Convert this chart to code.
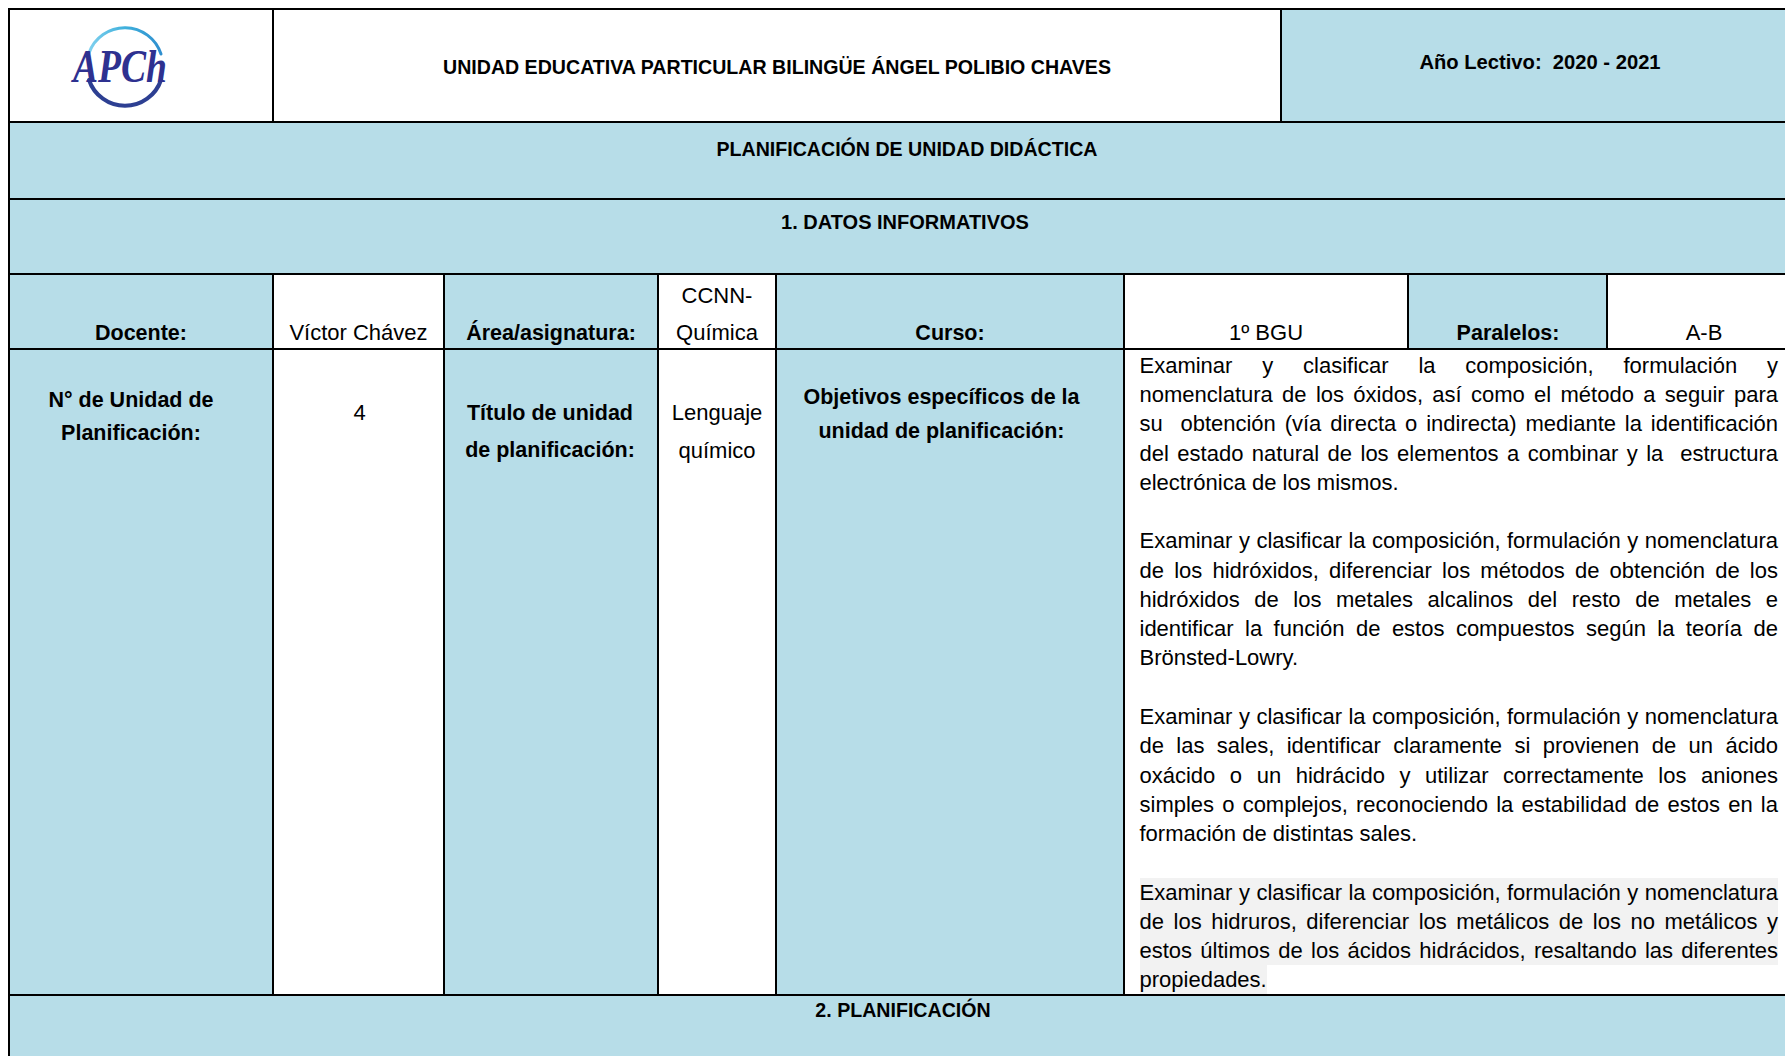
<!DOCTYPE html>
<html><head><meta charset="utf-8">
<script src="https://cdn.jsdelivr.net/npm/chart.js@4.4.1/dist/chart.umd.min.js"></script>
<style>
html,body{margin:0;padding:0;background:#fff;width:1785px;height:1056px;overflow:hidden;}
#page{position:relative;width:1785px;height:1056px;font-family:"Liberation Sans",Arial,sans-serif;color:#000;overflow:hidden;}
.r{position:absolute;}
.t{position:absolute;white-space:pre;text-align:center;}
.obj{position:absolute;white-space:pre;text-align:justify;font-size:22px;}
</style></head><body><div id="page"></div>
<script>
// ---- content ----
const schoolName = "UNIDAD EDUCATIVA PARTICULAR BILINGÜE ÁNGEL POLIBIO CHAVES";
const schoolYear = "Año Lectivo:  2020 - 2021";
const sectionTitles = ["PLANIFICACIÓN DE UNIDAD DIDÁCTICA", "1. DATOS INFORMATIVOS", "2. PLANIFICACIÓN"];
const infoLabels = ["Docente:", "Área/asignatura:", "Curso:", "Paralelos:"];
const infoValues = ["Víctor Chávez", ["CCNN-", "Química"], "1º BGU", "A-B"];
const unitLabels = [["N° de Unidad de", "Planificación:"], ["Título de unidad", "de planificación:"], ["Objetivos específicos de la", "unidad de planificación:"]];
const unitValues = ["4", ["Lenguaje", "químico"]];
const objectives = [
  ["Examinar y clasificar la composición, formulación y",
   "nomenclatura de los óxidos, así como el método a seguir para",
   "su  obtención (vía directa o indirecta) mediante la identificación",
   "del estado natural de los elementos a combinar y la  estructura",
   "electrónica de los mismos."],
  ["Examinar y clasificar la composición, formulación y nomenclatura",
   "de los hidróxidos, diferenciar los métodos de obtención de los",
   "hidróxidos de los metales alcalinos del resto de metales e",
   "identificar la función de estos compuestos según la teoría de",
   "Brönsted-Lowry."],
  ["Examinar y clasificar la composición, formulación y nomenclatura",
   "de las sales, identificar claramente si provienen de un ácido",
   "oxácido o un hidrácido y utilizar correctamente los aniones",
   "simples o complejos, reconociendo la estabilidad de estos en la",
   "formación de distintas sales."],
  ["Examinar y clasificar la composición, formulación y nomenclatura",
   "de los hidruros, diferenciar los metálicos de los no metálicos y",
   "estos últimos de los ácidos hidrácidos, resaltando las diferentes",
   "propiedades."]
];

// ---- layout ----
const page = document.getElementById('page');
const BLUE = '#b7dde8', WHITE = '#ffffff';
function rect(x1, y1, x2, y2, color) {
  const d = document.createElement('div'); d.className = 'r';
  d.style.left = x1 + 'px'; d.style.top = y1 + 'px';
  d.style.width = (x2 - x1) + 'px'; d.style.height = (y2 - y1) + 'px';
  d.style.background = color; page.appendChild(d); return d;
}
function hline(y, x1, x2, w) { w = w || 2; rect(x1 - w / 2, y - w / 2, x2 + w / 2, y + w / 2, '#000'); }
function vline(x, y1, y2, w) { w = w || 2; rect(x - w / 2, y1 - w / 2, x + w / 2, y2 + w / 2, '#000'); }
function text(s, cx, cy, size, bold, lh) {
  lh = lh || size * 1.3;
  const d = document.createElement('div'); d.className = 't';
  d.textContent = s;
  d.style.left = (cx - 400) + 'px'; d.style.width = '800px';
  d.style.top = (cy - lh / 2) + 'px'; d.style.lineHeight = lh + 'px';
  d.style.fontSize = size + 'px'; d.style.fontWeight = bold ? 'bold' : 'normal';
  page.appendChild(d); return d;
}

const R = [9, 122, 199, 274, 349, 995, 1080];
const C = [9, 273, 444, 658, 776, 1124, 1408, 1607, 1801];
const XY = 1281;

// fills
rect(C[0], R[0], XY, R[1], WHITE);
rect(XY, R[0], C[8], R[1], BLUE);
rect(C[0], R[1], C[8], R[3], BLUE);
for (let i = 0; i < 8; i++) rect(C[i], R[3], C[i + 1], R[4], i % 2 ? WHITE : BLUE);
for (let i = 0; i < 5; i++) rect(C[i], R[4], C[i + 1], R[5], i % 2 ? WHITE : BLUE);
rect(C[5], R[4], C[8], R[5], WHITE);
rect(C[0], R[5], C[8], R[6], BLUE);

// objectives text
const objLeft = 1139.5, objRight = 1778, objTop = 365.4, objLH = 29.27;
let li = 0;
objectives.forEach((para, pi) => {
  para.forEach((line, k) => {
    const last = k === para.length - 1;
    const d = document.createElement('div'); d.className = 'obj';
    d.style.left = objLeft + 'px'; d.style.width = (objRight - objLeft) + 'px';
    d.style.top = (objTop + li * objLH - objLH / 2) + 'px';
    d.style.height = objLH + 'px';
    d.style.lineHeight = objLH + 'px';
    d.style.textAlignLast = last ? 'left' : 'justify';
    if (pi === objectives.length - 1) {
      if (last) {
        const sp = document.createElement('span');
        sp.textContent = line; sp.style.background = '#f2f2f2';
        sp.style.display = 'inline-block'; sp.style.lineHeight = objLH + 'px';
        d.appendChild(sp);
      } else { d.textContent = line; d.style.background = '#f2f2f2'; }
    } else d.textContent = line;
    page.appendChild(d);
    li++;
  });
  li++;
});

// grid lines
[R[0], R[1], R[2], R[3], R[4], R[5]].forEach(y => hline(y, C[0], C[8], 2.5));
vline(C[0], R[0], R[6], 2.5);
vline(C[1], R[0], R[1]); vline(XY, R[0], R[1]);
vline(C[1], R[3], R[5]);
[2, 3, 4, 5].forEach(i => vline(C[i], R[3], R[5]));
vline(C[6], R[3], R[4]); vline(C[7], R[3], R[4]);

// header texts
const HS = 19.6, LS = 21.5, VS = 22;
text(schoolName, 777, 68, HS, true);
text(schoolYear, 1540, 62.6, 20.2, true);
text(sectionTitles[0], 907, 150, HS, true);
text(sectionTitles[1], 905, 222, 20, true);
text(sectionTitles[2], 903, 1011, HS, true);

// info row
text(infoLabels[0], 141, 333.5, LS, true);
text(infoValues[0], 358.5, 333.5, VS, false);
text(infoLabels[1], 551, 333.5, LS, true);
text(infoValues[1][0], 717, 296, VS, false);
text(infoValues[1][1], 717, 333.5, VS, false);
text(infoLabels[2], 950, 333.5, LS, true);
text(infoValues[2], 1266, 333.5, VS, false);
text(infoLabels[3], 1508, 333.5, LS, true);
text(infoValues[3], 1704, 333.5, VS, false);

// unit row
text(unitLabels[0][0], 131, 400.7, LS, true);
text(unitLabels[0][1], 131, 433.7, LS, true);
text(unitValues[0], 359.7, 413, VS, false);
text(unitLabels[1][0], 550, 414.4, LS, true);
text(unitLabels[1][1], 550, 450.8, LS, true);
text(unitValues[1][0], 717, 413.2, VS, false);
text(unitValues[1][1], 717, 450.8, VS, false);
text(unitLabels[2][0], 941.5, 398.4, LS, true);
text(unitLabels[2][1], 941.5, 431.5, LS, true);

// logo
const svgNS = 'http://www.w3.org/2000/svg';
const svg = document.createElementNS(svgNS, 'svg');
svg.setAttribute('width', 273); svg.setAttribute('height', 122);
svg.style.position = 'absolute'; svg.style.left = '0px'; svg.style.top = '0px';
svg.innerHTML = `
<defs><linearGradient id="g1" x1="0" x2="1" y1="0" y2="0">
<stop offset="0" stop-color="#7fd0ee"/><stop offset="0.5" stop-color="#3fb0dc"/><stop offset="1" stop-color="#2f8fcf"/></linearGradient></defs>
<path d="M 89 53 A 38 38 0 0 1 161 54" fill="none" stroke="url(#g1)" stroke-width="3" stroke-linecap="round"/>
<path d="M 89 80 A 38 38 0 0 0 161 80" fill="none" stroke="#2d3f92" stroke-width="4" stroke-linecap="round"/>
<text x="73" y="82" font-family="Liberation Serif, serif" font-style="italic" font-weight="bold" font-size="40" fill="#2e3190" transform="translate(0,-14) scale(1,1.17)" textLength="94" lengthAdjust="spacingAndGlyphs">APCh</text>`;
page.appendChild(svg);
</script>
</body></html>
